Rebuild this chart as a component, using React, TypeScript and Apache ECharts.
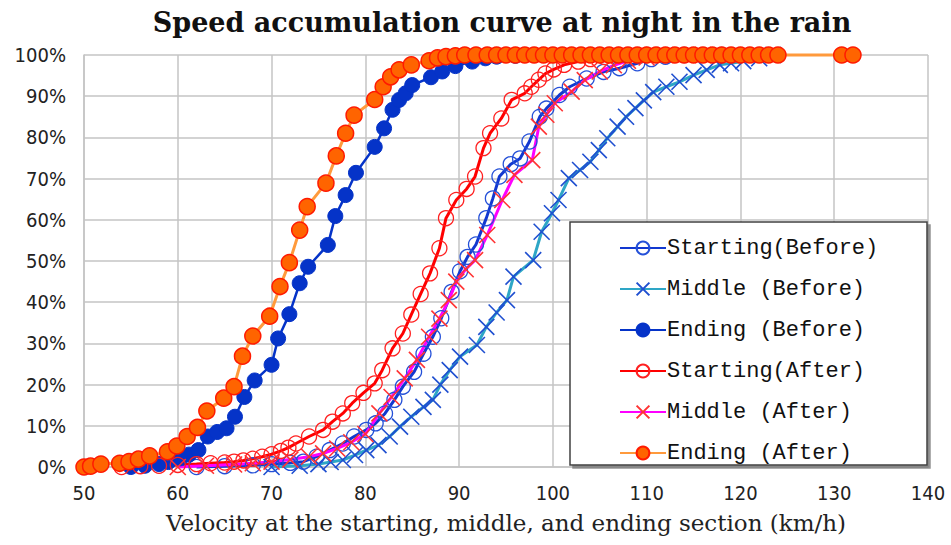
import { useEffect, useRef } from "react";
import * as echarts from "echarts";

const chartTitle = "Speed accumulation curve at night in the rain";
const xAxisName = "Velocity at the starting, middle, and ending section (km/h)";
const seriesNames = [
  "Starting(Before)",
  "Middle (Before)",
  "Ending (Before)",
  "Starting(After)",
  "Middle (After)",
  "Ending (After)",
];
const xMin = 50;
const xMax = 140;
const xStep = 10;
const yMin = 0;
const yMax = 100;
const yStep = 10;

const startingBefore: [number, number][] = [
  [62, 0], [65, 0.2], [68, 0.4], [70, 0.7], [72, 1], [73.4, 1.3], [74.8, 2.5], [76.2, 4.1],
  [77.6, 5.7], [78.8, 7.4], [80.1, 9], [81.1, 10.6], [82.1, 13], [83.1, 16.3], [84, 19.5],
  [85.2, 23.1], [86.2, 27.5], [87.2, 31.6], [88.1, 36.1], [89.2, 42.5], [90.1, 47.5],
  [90.9, 51], [91.8, 54], [92.9, 60.4], [93.6, 65.2], [94.3, 70.5], [95.5, 73.5],
  [96.5, 74.9], [97.5, 79], [98.6, 85], [99.3, 87], [100.7, 90.3], [101.8, 92.3],
  [103.6, 94.3], [105.4, 95.9], [107.1, 96.8], [109, 98], [110.5, 99], [112, 99.6],
  [114, 100], [118, 100],
];

const middleBefore: [number, number][] = [
  [70, 0], [73, 0.3], [75, 0.7], [76.3, 1.2], [77.6, 1.7], [78.9, 2.9], [80.1, 4.1],
  [81.4, 5.3], [82.6, 7.4], [83.7, 9.8], [84.9, 12.2], [86.2, 14.6], [87.2, 16.3],
  [88, 20], [89, 23.5], [90.1, 26.8], [91.9, 29.6], [92.9, 34], [94, 37.5], [95.1, 40.5],
  [95.8, 46.2], [97.9, 50.2], [98.8, 57.1], [99.9, 61.6], [100.6, 64.8], [101.7, 70.1],
  [102.9, 72.1], [104, 74.1], [104.9, 76.9], [105.8, 79.8], [106.9, 82.6], [107.8, 85],
  [108.8, 87.1], [109.7, 89], [110.7, 91], [112.1, 92.3], [113.5, 93.5], [115, 95.1],
  [116.4, 96.4], [117.8, 97.6], [119, 98], [120.3, 98.5], [122, 99.2], [123.5, 100],
];

const endingBefore: [number, number][] = [
  [55, 0], [56.5, 0.3], [58, 0.7], [59, 1.2], [60.3, 2.1], [61.2, 3], [62.2, 4.1],
  [63.2, 7.4], [64.2, 8.5], [65.2, 9.4], [66.1, 12.2], [67.1, 17], [68.2, 21], [70, 24.8],
  [70.7, 31.2], [71.9, 37.1], [73, 44.6], [73.9, 48.6], [76, 53.9], [76.8, 60.9],
  [77.9, 66], [79, 71.4], [81, 77.7], [82, 82.2], [82.9, 86.7], [83.6, 89.1], [84.3, 90.7],
  [85, 92.7], [87, 94.6], [88.2, 96], [89.6, 97.3], [91.4, 98.4], [92.8, 99.2], [94, 99.6],
  [96, 99.8], [98, 100], [100, 100],
];

const startingAfter: [number, number][] = [
  [54, 0], [56, 0.2], [58, 0.3], [60, 0.5], [62, 0.7], [63.5, 0.9], [65, 1.1], [66, 1.3],
  [67, 1.6], [68, 2], [69, 2.5], [70, 3.1], [71, 3.9], [71.8, 4.7], [72.6, 5.7], [74, 7.4],
  [75.5, 9], [76.5, 11], [77.6, 13], [78.6, 15.5], [79.8, 18], [81, 20.3], [81.8, 23.5],
  [82.9, 28.8], [84, 32.4], [84.9, 37], [85.9, 42], [86.9, 47], [87.9, 53.1], [88.6, 60.4],
  [89.7, 64.8], [90.8, 67.5], [91.7, 70.5], [92.6, 77.4], [93.3, 81], [94.5, 84.6],
  [95.6, 89.1], [97, 90.7], [97.7, 92.3], [98.5, 94], [99.2, 95.5], [100.1, 96.5],
  [101.2, 97.6], [102.7, 98.4], [104, 99], [105.5, 99.5], [107, 100], [110, 100],
];

const middleAfter: [number, number][] = [
  [60, 0], [63, 0.3], [66, 0.6], [68, 0.9], [70, 1.3], [72, 1.8], [74, 2.5], [75.5, 3.3],
  [77, 4.5], [78.5, 6], [80, 8], [81.5, 13], [82.8, 17], [84.2, 21.5], [85.5, 26],
  [86.8, 31.6], [87.9, 36], [88.9, 40.5], [89.7, 45], [90.7, 48], [91.7, 50.2], [93, 56.3],
  [94.6, 64.8], [95.9, 70.9], [97.8, 74.5], [98.5, 82.6], [99.3, 85.5], [100.2, 88.3],
  [102, 91.1], [103.4, 93.9], [105, 96], [106.5, 97.5], [108, 98.6], [110, 99.4],
  [112, 100], [116, 100],
];

const endingAfter: [number, number][] = [
  [50, 0], [50.7, 0.2], [51.8, 0.7], [53.8, 0.9], [54.8, 1.3], [55.8, 1.9], [57, 2.7],
  [58.9, 3.7], [59.9, 5.1], [61, 7.4], [62.1, 9.6], [63.1, 13.6], [64.9, 16.7], [66, 19.5],
  [66.9, 26.9], [68, 31.8], [69.8, 36.6], [70.9, 43.8], [71.9, 49.6], [73, 57.5],
  [73.8, 63.2], [75.8, 68.9], [76.9, 75.5], [77.9, 81], [78.8, 85.4], [81, 89.2],
  [81.9, 92.3], [82.7, 94.7], [83.6, 96.4], [84.9, 97.6], [86.8, 98.6], [87.7, 99.3],
  [88.6, 99.6], [89.6, 99.8], [90.6, 100], [91.8, 100], [93, 100], [94, 100], [95, 100],
  [96, 100], [97, 100], [98, 100], [99, 100], [100, 100], [101, 100], [102, 100],
  [103, 100], [104, 100], [105, 100], [106, 100], [107, 100], [108, 100], [109, 100],
  [110, 100], [111, 100], [112, 100], [113, 100], [114, 100], [115, 100], [116, 100],
  [117, 100], [118, 100], [119, 100], [120, 100], [121, 100], [122, 100], [123, 100],
  [124, 100], [130.8, 100], [132, 100],
];

const crossPath = "path://M0,0L10,10M10,0L0,10";
const axisFont = "'Liberation Sans Narrow', 'DejaVu Sans Condensed', 'Liberation Sans', sans-serif";

export default function App() {
  const ref = useRef<HTMLDivElement>(null);
  useEffect(() => {
    if (!ref.current) return;
    const chart = echarts.init(ref.current, undefined, { renderer: "svg" });
    const gridColor = "#c4c4c4";
    chart.setOption({
      animation: false,
      backgroundColor: "#ffffff",
      title: {
        text: chartTitle,
        left: 497,
        top: 4,
        textAlign: "center",
        textStyle: {
          fontFamily: "'DejaVu Serif', serif",
          fontWeight: "bold",
          fontSize: 27,
          color: "#111",
        },
      },
      grid: { left: 84, right: 23, top: 55, bottom: 78, containLabel: false },
      graphic: [
        {
          type: "rect",
          z: 10,
          shape: { x: 570, y: 222, width: 357, height: 243 },
          style: {
            fill: "#ffffff",
            stroke: "#404040",
            lineWidth: 1.5,
            shadowColor: "rgba(120,120,120,0.8)",
            shadowOffsetX: 3,
            shadowOffsetY: 3,
            shadowBlur: 0,
          },
        },
      ],
      legend: {
        orient: "vertical",
        left: 614,
        top: 232,
        z: 11,
        itemWidth: 46,
        itemHeight: 16,
        itemGap: 19,
        data: seriesNames,
        textStyle: {
          fontFamily: "'Liberation Mono', 'DejaVu Sans Mono', monospace",
          fontSize: 22,
          color: "#111",
          padding: [0, 0, 0, -4],
        },
      },
      xAxis: {
        type: "value",
        min: xMin,
        max: xMax,
        interval: xStep,
        name: xAxisName,
        nameLocation: "middle",
        nameGap: 44,
        nameTextStyle: {
          fontFamily: "'DejaVu Serif', serif",
          fontSize: 23,
          color: "#222",
        },
        axisLine: { show: true, lineStyle: { color: gridColor, width: 1.5 } },
        axisTick: { show: false },
        axisLabel: { fontFamily: axisFont, fontSize: 20, color: "#222", margin: 16 },
        splitLine: { show: true, lineStyle: { color: gridColor, width: 1.5 } },
      },
      yAxis: {
        type: "value",
        min: yMin,
        max: yMax,
        interval: yStep,
        axisLine: { show: true, lineStyle: { color: gridColor, width: 1.5 } },
        axisTick: { show: false },
        axisLabel: {
          fontFamily: axisFont,
          fontSize: 20,
          color: "#222",
          margin: 18,
          formatter: "{value}%",
        },
        splitLine: { show: true, lineStyle: { color: gridColor, width: 1.5 } },
      },
      series: [
        {
          name: seriesNames[0],
          type: "line",
          data: startingBefore,
          clip: false,
          symbol: "circle",
          symbolSize: 15,
          lineStyle: { color: "#1238d0", width: 3 },
          itemStyle: { color: "rgba(255,255,255,0)", borderColor: "#2450d8", borderWidth: 1.3 },
        },
        {
          name: seriesNames[1],
          type: "line",
          data: middleBefore,
          clip: false,
          symbol: crossPath,
          symbolSize: 16,
          lineStyle: { color: "#2ea6c6", width: 3 },
          itemStyle: { color: "rgba(255,255,255,0)", borderColor: "#1f4fd0", borderWidth: 1.6 },
        },
        {
          name: seriesNames[2],
          type: "line",
          data: endingBefore,
          clip: false,
          symbol: "circle",
          symbolSize: 15,
          lineStyle: { color: "#0533c8", width: 2.5 },
          itemStyle: { color: "#0533c8", borderColor: "#0533c8", borderWidth: 1 },
        },
        {
          name: seriesNames[3],
          type: "line",
          data: startingAfter,
          clip: false,
          symbol: "circle",
          symbolSize: 15,
          lineStyle: { color: "#ff0000", width: 3 },
          itemStyle: { color: "rgba(255,255,255,0)", borderColor: "#ff2020", borderWidth: 1.3 },
        },
        {
          name: seriesNames[4],
          type: "line",
          data: middleAfter,
          clip: false,
          symbol: crossPath,
          symbolSize: 16,
          lineStyle: { color: "#ff00ff", width: 3 },
          itemStyle: { color: "rgba(255,255,255,0)", borderColor: "#ff3333", borderWidth: 1.6 },
        },
        {
          name: seriesNames[5],
          type: "line",
          data: endingAfter,
          clip: false,
          symbol: "circle",
          symbolSize: 16,
          lineStyle: { color: "#ff9a3c", width: 3 },
          itemStyle: { color: "#ff6400", borderColor: "#ff1a00", borderWidth: 1.5 },
        },
      ],
    });
    return () => chart.dispose();
  }, []);
  return (
    <div
      ref={ref}
      style={{ position: "fixed", left: 0, top: 0, width: 951, height: 545, background: "#fff" }}
    />
  );
}
